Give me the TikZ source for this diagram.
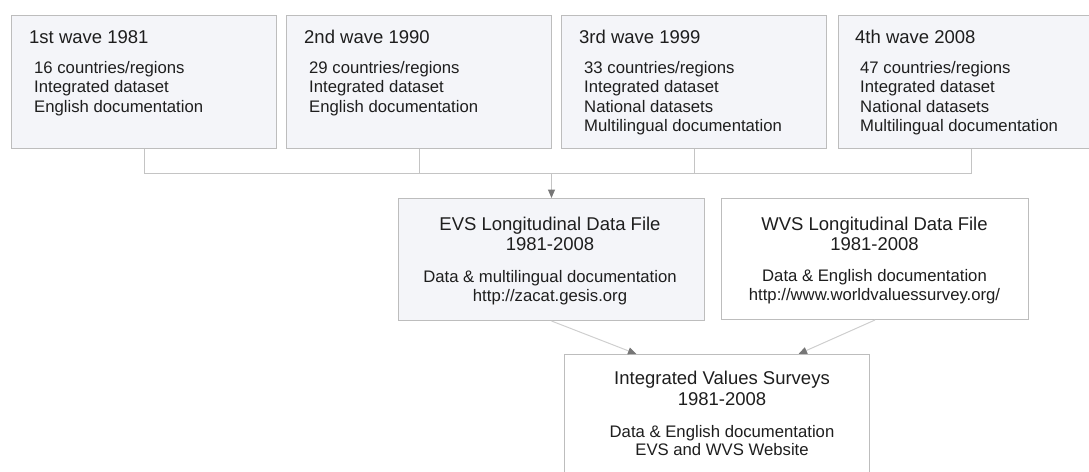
\documentclass[tikz,border=0pt]{standalone}
\usepackage{fontspec}
\setmainfont{Liberation Sans}
\usetikzlibrary{arrows.meta}
\definecolor{boxfill}{HTML}{F4F5F9}
\definecolor{boxline}{HTML}{BDBDBD}
\definecolor{conline}{HTML}{C4C4C4}
\definecolor{diagline}{HTML}{CFCFCF}
\definecolor{tipcol}{HTML}{767676}
\definecolor{txt}{HTML}{1E1E1E}
\tikzset{
  wavebox/.style={draw=boxline, line width=1pt, fill=boxfill, rectangle, inner sep=0pt, anchor=north west},
  whitebox/.style={draw=boxline, line width=1pt, fill=white, rectangle, inner sep=0pt, anchor=north west},
  ttl/.style={text=txt, inner sep=0pt, font=\fontsize{18.5}{22}\selectfont},
  bdy/.style={text=txt, inner sep=0pt, font=\fontsize{16.7}{19.3}\selectfont},
  conn/.style={draw=conline, line width=1pt},
  diag/.style={draw=diagline, line width=1pt},
  tip/.style={-{Triangle[length=8.5pt,width=7pt,color=tipcol]}}
}
\begin{document}
\begin{tikzpicture}[x=1pt,y=-1pt]
\useasboundingbox (0,0) rectangle (1089,471);
\clip (0,0) rectangle (1089,471);
% wave boxes
\node[wavebox, minimum width=265pt, minimum height=133pt] (w1) at (11,15) {};
\node[wavebox, minimum width=265pt, minimum height=133pt] (w2) at (286,15) {};
\node[wavebox, minimum width=265pt, minimum height=133pt] (w3) at (561,15) {};
\node[wavebox, minimum width=265pt, minimum height=133pt] (w4) at (838,15) {};
% wave texts
\node[ttl, anchor=base west] (t1) at (29,43) {1st wave 1981};
\node[bdy, anchor=base west] (b1a) at (34,73.3) {16 countries/regions};
\node[bdy, anchor=base west] (b1b) at (34,92.7) {Integrated dataset};
\node[bdy, anchor=base west] (b1c) at (34,112) {English documentation};
\node[ttl, anchor=base west] (t2) at (304,43) {2nd wave 1990};
\node[bdy, anchor=base west] (b2a) at (309,73.3) {29 countries/regions};
\node[bdy, anchor=base west] (b2b) at (309,92.7) {Integrated dataset};
\node[bdy, anchor=base west] (b2c) at (309,112) {English documentation};
\node[ttl, anchor=base west] (t3) at (579,43) {3rd wave 1999};
\node[bdy, anchor=base west] (b3a) at (584,73.3) {33 countries/regions};
\node[bdy, anchor=base west] (b3b) at (584,92.7) {Integrated dataset};
\node[bdy, anchor=base west] (b3c) at (584,112) {National datasets};
\node[bdy, anchor=base west] (b3d) at (584,131.3) {Multilingual documentation};
\node[ttl, anchor=base west] (t4) at (855,43) {4th wave 2008};
\node[bdy, anchor=base west] (b4a) at (860,73.3) {47 countries/regions};
\node[bdy, anchor=base west] (b4b) at (860,92.7) {Integrated dataset};
\node[bdy, anchor=base west] (b4c) at (860,112) {National datasets};
\node[bdy, anchor=base west] (b4d) at (860,131.3) {Multilingual documentation};
% longitudinal boxes
\node[wavebox, minimum width=306pt, minimum height=122pt] (evs) at (398,198) {};
\node[whitebox, minimum width=307pt, minimum height=121pt] (wvs) at (721,198) {};
\node[whitebox, minimum width=305pt, minimum height=122pt] (ivs) at (564,354) {};
% EVS text
\node[ttl, anchor=base] (evs1) at (550,230) {EVS Longitudinal Data File};
\node[ttl, anchor=base] (evs2) at (550,250.7) {1981-2008};
\node[bdy, anchor=base] (evs3) at (550,282.7) {Data \& multilingual documentation};
\node[bdy, anchor=base] (evs4) at (550,301.7) {http://zacat.gesis.org};
% WVS text
\node[ttl, anchor=base] (wvs1) at (874.5,230) {WVS Longitudinal Data File};
\node[ttl, anchor=base] (wvs2) at (874.5,250.7) {1981-2008};
\node[bdy, anchor=base] (wvs3) at (874.5,281.7) {Data \& English documentation};
\node[bdy, anchor=base] (wvs4) at (874.5,300.7) {http://www.worldvaluessurvey.org/};
% IVS text
\node[ttl, anchor=base] (ivs1) at (722,384) {Integrated Values Surveys};
\node[ttl, anchor=base] (ivs2) at (722,405) {1981-2008};
\node[bdy, anchor=base] (ivs3) at (722,437) {Data \& English documentation};
\node[bdy, anchor=base] (ivs4) at (722,455.5) {EVS and WVS Website};
% connectors
\coordinate (jl) at (w1.south |- 0,173);
\coordinate (jr) at (w4.south |- 0,173);
\coordinate (jm) at (evs.north |- 0,173);
\draw[conn] (w1.south) -- (jl) -- (jr) -- (w4.south);
\draw[conn] (w2.south) -- (w2.south |- jl);
\draw[conn] (w3.south) -- (w3.south |- jl);
\draw[conn, tip] (jm) -- (evs.north);
\draw[diag, tip] (evs.south) -- ([xshift=-80.5pt]ivs.north);
\draw[diag, tip] (wvs.south) -- ([xshift=81.5pt]ivs.north);
\end{tikzpicture}
\end{document}
